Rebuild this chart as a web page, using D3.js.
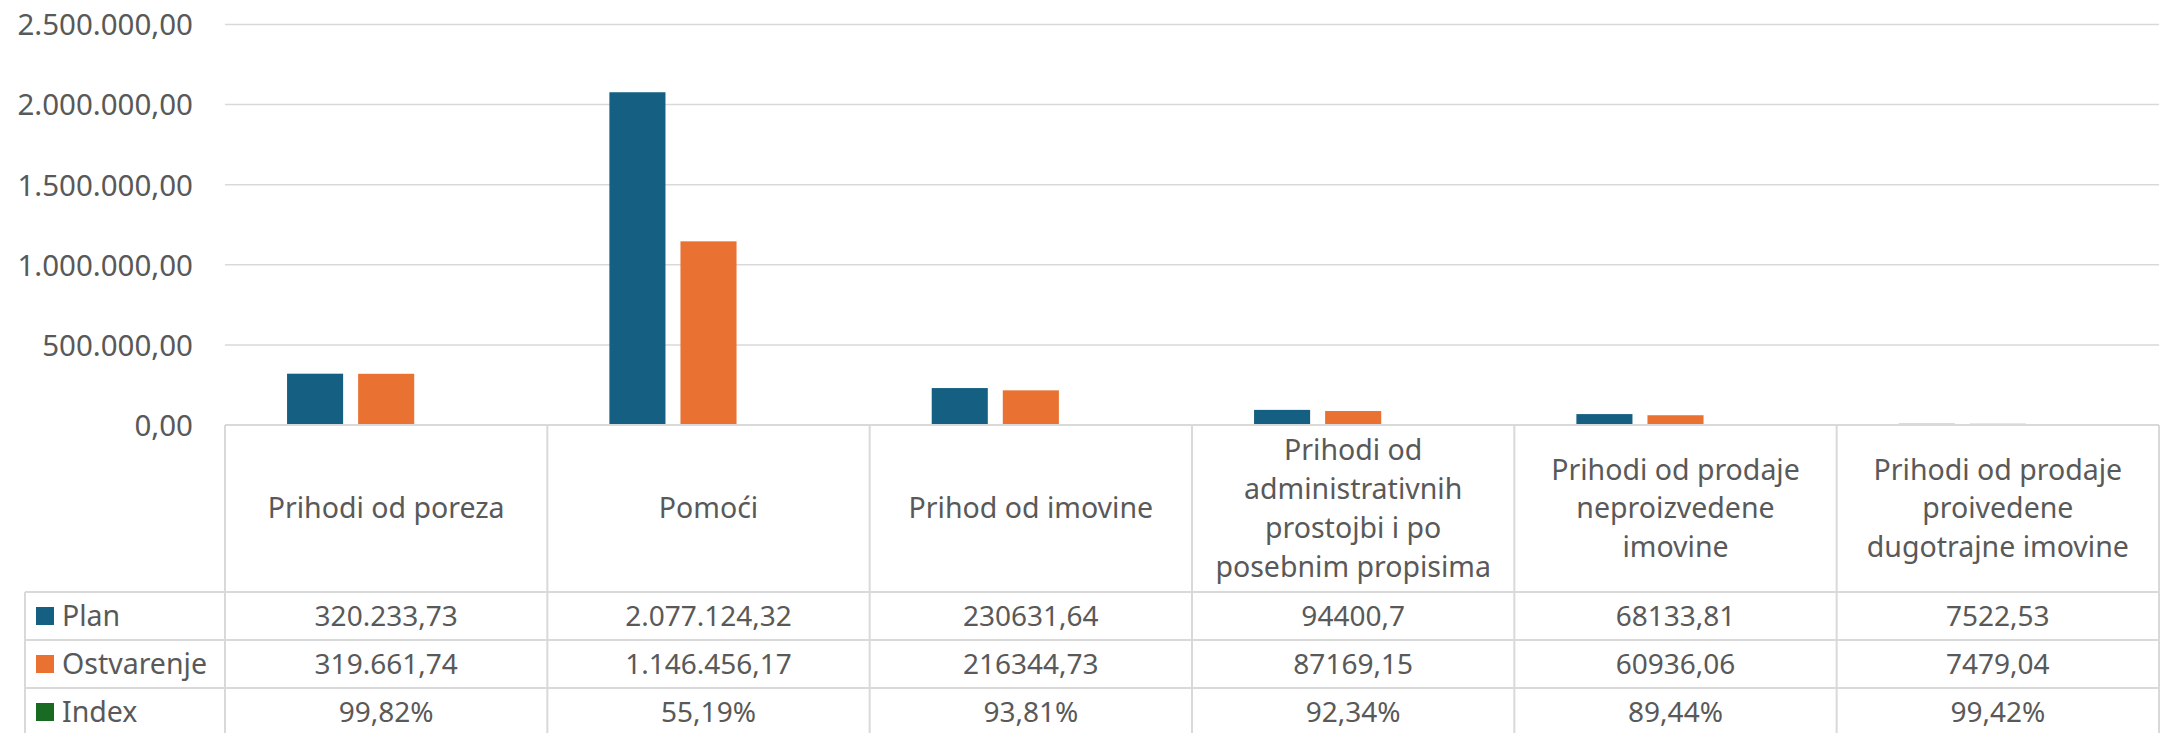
<!DOCTYPE html>
<html>
<head>
<meta charset="utf-8">
<script src="https://cdn.jsdelivr.net/npm/d3@7"></script>
<style>
  body { margin: 0; background: #fff; }
  svg { display: block; }
  text { font-family: "Noto Sans", sans-serif; fill: #595959; }
</style>
</head>
<body>
<div id="chart"></div>
<script>
var categories = [
    "Prihodi od poreza",
    "Pomoći",
    "Prihod od imovine",
    "Prihodi od\nadministrativnih\nprostojbi i po\nposebnim propisima",
    "Prihodi od prodaje\nneproizvedene\nimovine",
    "Prihodi od prodaje\nproivedene\ndugotrajne imovine"
];
var series = ["Plan", "Ostvarenje", "Index"];
var plan = [320233.73, 2077124.32, 230631.64, 94400.7, 68133.81, 7522.53];
var ostvarenje = [319661.74, 1146456.17, 216344.73, 87169.15, 60936.06, 7479.04];
var index = [0.9982, 0.5519, 0.9381, 0.9234, 0.8944, 0.9942];
var planLabels = ["320.233,73", "2.077.124,32", "230631,64", "94400,7", "68133,81", "7522,53"];
var ostvarenjeLabels = ["319.661,74", "1.146.456,17", "216344,73", "87169,15", "60936,06", "7479,04"];
var yTicks = [0, 500000, 1000000, 1500000, 2000000, 2500000];

var colors = {Plan: "#156082", Ostvarenje: "#E97132", Index: "#196B24"};

var width = 2167, height = 733;
var plotLeft = 225, plotRight = 2159, plotTop = 24.5, zero = 425;
var headBottom = 592, rowH = 48, legendLeft = 25;

var hr = d3.formatLocale({decimal: ",", thousands: ".", grouping: [3], currency: ["", ""]});
var fmtAxis = hr.format(",.2f");
var fmtPct = hr.format(".2%");

var svg = d3.select("#chart").append("svg")
    .attr("width", width)
    .attr("height", height);

var x = d3.scaleBand().domain(d3.range(categories.length)).range([plotLeft, plotRight]);
var xs = d3.scaleBand().domain(series).range([0, x.bandwidth()])
    .paddingInner(0.211).paddingOuter(0.873);
var y = d3.scaleLinear().domain([0, 2500000]).range([zero, plotTop]);

// gridlines
svg.append("g")
    .selectAll("line")
    .data(yTicks)
    .enter()
    .append("line")
    .attr("x1", plotLeft)
    .attr("x2", plotRight)
    .attr("y1", d => y(d))
    .attr("y2", d => y(d))
    .attr("stroke", "#d9d9d9")
    .attr("stroke-width", 1.5);

// y axis
var yAxis = svg.append("g")
    .attr("transform", "translate(193,0)")
    .call(d3.axisLeft(y).tickValues(yTicks).tickFormat(fmtAxis).tickSize(0).tickPadding(0));
yAxis.select(".domain").remove();
yAxis.selectAll("text")
    .attr("font-size", "29.5px")
    .attr("font-family", null)
    .attr("fill", "#595959")
    .attr("dy", "0.35em");

// bars
var values = {Plan: plan, Ostvarenje: ostvarenje, Index: index};
var groups = svg.append("g")
    .selectAll("g")
    .data(categories)
    .enter()
    .append("g")
    .attr("transform", (d, i) => "translate(" + x(i) + ",0)");

groups.selectAll("rect")
    .data((d, i) => series.map(s => ({s: s, v: values[s][i]})))
    .enter()
    .append("rect")
    .attr("x", d => xs(d.s))
    .attr("width", xs.bandwidth())
    .attr("y", d => y(d.v))
    .attr("height", d => zero - y(d.v))
    .attr("fill", d => colors[d.s]);

// table
var grid = svg.append("g")
    .attr("stroke", "#d9d9d9")
    .attr("stroke-width", 2);
var tableBottom = headBottom + rowH * 3;

grid.append("line").attr("x1", plotLeft).attr("x2", plotRight).attr("y1", zero).attr("y2", zero);
d3.range(4).forEach(function (r) {
    grid.append("line")
        .attr("x1", legendLeft).attr("x2", plotRight)
        .attr("y1", headBottom + r * rowH).attr("y2", headBottom + r * rowH);
});
grid.append("line").attr("x1", legendLeft).attr("x2", legendLeft).attr("y1", headBottom).attr("y2", tableBottom);
d3.range(categories.length + 1).forEach(function (i) {
    var xx = i < categories.length ? x(i) : plotRight;
    grid.append("line").attr("x1", xx).attr("x2", xx).attr("y1", zero).attr("y2", tableBottom);
});

// header labels
var lineH = 38.7;
groups.each(function (d, i) {
    var lines = d.split("\n");
    var cy = (zero + headBottom) / 2;
    var t = d3.select(this).append("text")
        .attr("text-anchor", "middle")
        .attr("font-size", "28.5px");
    lines.forEach(function (ln, k) {
        t.append("tspan")
            .attr("x", x.bandwidth() / 2)
            .attr("y", cy + (k - (lines.length - 1) / 2) * lineH)
            .attr("dy", "0.35em")
            .text(ln);
    });
});

// rows
var rows = [planLabels, ostvarenjeLabels, index.map(fmtPct)];
rows.forEach(function (labels, r) {
    var cy = headBottom + r * rowH + rowH / 2;
    svg.append("rect")
        .attr("x", 36).attr("y", cy - 9)
        .attr("width", 18).attr("height", 18)
        .attr("fill", colors[series[r]]);
    svg.append("text")
        .attr("x", 62).attr("y", cy).attr("dy", "0.35em")
        .attr("font-size", "28.5px")
        .text(series[r]);
    svg.append("g").selectAll("text")
        .data(labels)
        .enter()
        .append("text")
        .attr("x", (d, i) => x(i) + x.bandwidth() / 2)
        .attr("y", cy)
        .attr("dy", "0.35em")
        .attr("text-anchor", "middle")
        .attr("font-size", "28px")
        .text(d => d);
});
</script>
</body>
</html>
